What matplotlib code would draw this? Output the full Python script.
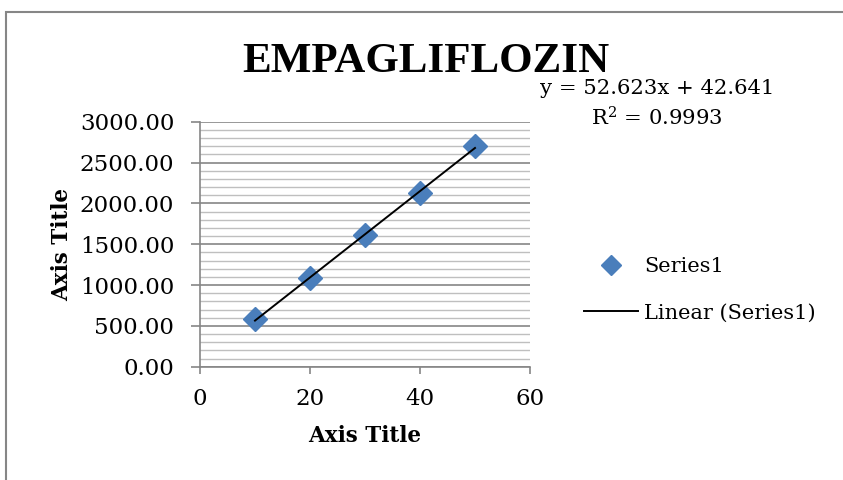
import numpy as np
import matplotlib
matplotlib.use("Agg")
import matplotlib.pyplot as plt
from matplotlib.lines import Line2D
from matplotlib.patches import Rectangle

x_vals = [10, 20, 30, 40, 50]
y_vals = [584, 1082, 1612, 2123, 2706]
title = "EMPAGLIFLOZIN"
eq_text = "y = 52.623x + 42.641"
r2_text = "R$^2$ = 0.9993"
series_name = "Series1"
trend_name = "Linear (Series1)"

plt.rcParams['font.family'] = ['DejaVu Serif']
plt.rcParams['mathtext.fontset'] = 'dejavuserif'

fig = plt.figure(figsize=(8.43, 4.80), dpi=100)
fig.patch.set_facecolor('white')

# outer chart border
fig.add_artist(Rectangle((6/843, -0.1), 1.0, 1 - 12/480 + 0.1, transform=fig.transFigure,
                         fill=False, edgecolor='#868686', linewidth=1.5))

ax = fig.add_axes([200/843, 1 - 366.7/480, 330/843, 245/480])
ax.set_xlim(0, 60)
ax.set_ylim(0, 3000)
ax.set_xticks([0, 20, 40, 60])
ax.set_yticks(np.arange(0, 3001, 500))
ax.set_yticks(np.arange(0, 3001, 100), minor=True)
ax.set_yticklabels([f"{v:.2f}" for v in np.arange(0, 3001, 500)])
ax.grid(axis='y', which='major', color='#868686', linewidth=1.2)
ax.grid(axis='y', which='minor', color='#bfbfbf', linewidth=1.0)
ax.set_axisbelow(True)
for s in ['top', 'right']:
    ax.spines[s].set_visible(False)
for s in ['left', 'bottom']:
    ax.spines[s].set_color('#868686')
    ax.spines[s].set_linewidth(1.2)
ax.tick_params(axis='both', which='major', direction='out', color='#868686',
               labelsize=16.5, width=1.2)
ax.tick_params(axis='y', which='major', length=6.5, pad=12)
ax.tick_params(axis='x', which='major', length=5, pad=10)
ax.tick_params(axis='y', which='minor', length=0)

ax.plot(x_vals, y_vals, linestyle='none', marker='D', markersize=12,
        color='#4a7ebb', markeredgecolor='#4a7ebb', zorder=3)
slope, intercept = np.polyfit(x_vals, y_vals, 1)
xs = np.array([min(x_vals), max(x_vals)])
ax.plot(xs, slope * xs + intercept, color='black', linewidth=1.4, zorder=4)

ax.set_xlabel("Axis Title", fontsize=15.5, fontweight='bold', labelpad=11)
ax.set_ylabel("Axis Title", fontsize=15.5, fontweight='bold', labelpad=5)

fig.text(426/843, 1 - 62/480, title, fontsize=31, fontweight='bold',
         ha='center', va='center', family=['Liberation Serif'])
fig.text(657/843, 1 - 88/480, eq_text, fontsize=15.2, ha='center', va='center')
fig.text(657/843, 1 - 118/480, r2_text, fontsize=15.2, ha='center', va='center')

# legend
handles = [Line2D([], [], linestyle='none', marker='D', markersize=10,
                  color='#4a7ebb'),
           Line2D([], [], color='black', linewidth=1.4)]
fig.legend(handles, [series_name, trend_name], loc='center left',
           bbox_to_anchor=(565/843, 1 - 290/480), frameon=False, fontsize=15,
           handlelength=2.6, handletextpad=0.3, labelspacing=1.3)

fig.savefig("out.png", dpi=100)
